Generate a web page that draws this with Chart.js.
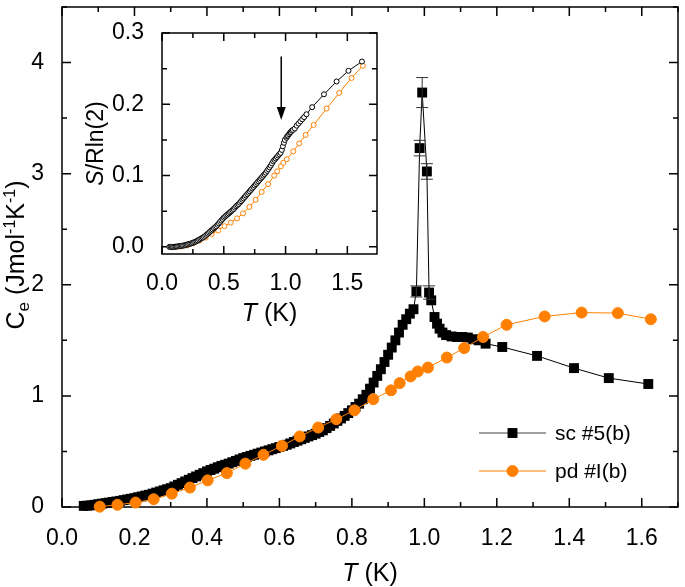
<!DOCTYPE html>
<html>
<head>
<meta charset="utf-8">
<title>Ce vs T</title>
<script src="https://cdn.jsdelivr.net/npm/chart.js@4.4.1/dist/chart.umd.min.js"></script>
<style>
    body { margin: 0; background: #fff; }
    #wrap { position: relative; width: 685px; height: 587px; }
    #wrap canvas { position: absolute; }
</style>
</head>
<body>
<div id="wrap">
    <canvas id="main" width="685" height="587" style="left:0;top:0"></canvas>
    <canvas id="inset" width="310" height="320" style="left:80px;top:20px"></canvas>
</div>
<script>
/* Ce(T) of two samples, inset: entropy S/Rln(2) */

// sc #5(b) – black squares
const scT = [0.06, 0.07, 0.08, 0.09, 0.10, 0.11, 0.12, 0.13, 0.14, 0.15, 0.16, 0.17, 0.18, 0.19, 0.20,
    0.21, 0.22, 0.23, 0.24, 0.25, 0.26, 0.27, 0.28, 0.29, 0.30, 0.31, 0.32, 0.33, 0.34, 0.35, 0.36, 0.37,
    0.38, 0.39, 0.40, 0.41, 0.42, 0.43, 0.44, 0.45, 0.46, 0.47, 0.48, 0.49, 0.50, 0.51, 0.52, 0.53, 0.54,
    0.55, 0.56, 0.57, 0.58, 0.59, 0.60, 0.61, 0.62, 0.63, 0.64, 0.65, 0.66, 0.67, 0.68, 0.69, 0.70, 0.71,
    0.72, 0.73, 0.74, 0.75, 0.76, 0.77, 0.78, 0.79, 0.80, 0.81, 0.82, 0.83, 0.84, 0.85, 0.86, 0.87, 0.88,
    0.89, 0.90, 0.91, 0.92, 0.93, 0.94, 0.95, 0.96,
    0.97, 0.978, 0.987, 0.994, 1.007, 1.013, 1.019, 1.028, 1.035, 1.042, 1.05, 1.06, 1.075, 1.09, 1.105,
    1.12, 1.135, 1.15, 1.169, 1.215, 1.311, 1.413, 1.509, 1.618];
const scCe = [0.01, 0.012, 0.015, 0.02, 0.025, 0.03, 0.035, 0.04, 0.045, 0.05, 0.055, 0.062, 0.068, 0.074, 0.08,
    0.088, 0.095, 0.103, 0.11, 0.12, 0.13, 0.14, 0.15, 0.16, 0.17, 0.185, 0.2, 0.215, 0.23, 0.245, 0.26, 0.275,
    0.29, 0.305, 0.32, 0.333, 0.345, 0.358, 0.37, 0.38, 0.39, 0.403, 0.415, 0.428, 0.44, 0.45, 0.46, 0.47, 0.48,
    0.49, 0.5, 0.51, 0.52, 0.53, 0.54, 0.55, 0.56, 0.572, 0.585, 0.597, 0.61, 0.622, 0.635, 0.647, 0.66, 0.675,
    0.69, 0.71, 0.73, 0.752, 0.775, 0.797, 0.82, 0.845, 0.87, 0.9, 0.93, 0.97, 1.01, 1.065, 1.12, 1.18, 1.24,
    1.305, 1.37, 1.435, 1.5, 1.57, 1.64, 1.69, 1.74,
    1.78, 1.94, 3.23, 3.73, 3.02, 1.93, 1.86, 1.71, 1.65, 1.605, 1.57, 1.547, 1.535, 1.53, 1.53,
    1.525, 1.51, 1.5, 1.47, 1.44, 1.36, 1.25, 1.16, 1.107];
const scS = [0, 0, 0, 0, 0, 0.0002, 0.0005, 0.0007, 0.001, 0.0012, 0.0015, 0.0018, 0.002, 0.0025, 0.003,
    0.0035, 0.004, 0.0045, 0.005, 0.0057, 0.0065, 0.0072, 0.008, 0.009, 0.01, 0.011, 0.012, 0.013, 0.014, 0.0155, 0.017, 0.0185,
    0.02, 0.0215, 0.023, 0.0245, 0.026, 0.0275, 0.029, 0.031, 0.033, 0.035, 0.037, 0.039, 0.041, 0.0425, 0.044, 0.0455, 0.047,
    0.0485, 0.05, 0.0515, 0.053, 0.055, 0.057, 0.0585, 0.06, 0.062, 0.064, 0.066, 0.068, 0.07, 0.072, 0.074, 0.076, 0.078,
    0.08, 0.082, 0.084, 0.086, 0.088, 0.09, 0.092, 0.094, 0.096, 0.098, 0.1, 0.102, 0.104, 0.1065, 0.109, 0.1115, 0.114,
    0.117, 0.12, 0.122, 0.124, 0.126, 0.128, 0.13, 0.132,
    0.136, 0.141, 0.146, 0.15, 0.153, 0.155, 0.156, 0.158, 0.16, 0.161, 0.163, 0.164, 0.166, 0.17, 0.173,
    0.176, 0.179, 0.182, 0.186, 0.196, 0.214, 0.232, 0.247, 0.26];
// error bars near the peak
const scErrT = [0.978, 0.987, 0.994, 1.007, 1.013];
const scErr = [0.05, 0.07, 0.135, 0.07, 0.06];

// pd #I(b) – orange circles
const pdT = [0.104, 0.153, 0.203, 0.253, 0.303, 0.353, 0.402, 0.455, 0.506, 0.556, 0.607, 0.656, 0.707, 0.757,
    0.807, 0.859, 0.908, 0.932, 0.962, 0.982, 1.01, 1.062, 1.11, 1.162, 1.227, 1.332, 1.434, 1.534, 1.625];
const pdCe = [0.003, 0.02, 0.04, 0.07, 0.12, 0.175, 0.24, 0.305, 0.39, 0.47, 0.55, 0.635, 0.715, 0.79,
    0.87, 0.97, 1.05, 1.115, 1.175, 1.22, 1.255, 1.345, 1.43, 1.53, 1.64, 1.715, 1.75, 1.745, 1.69];
const pdS = [0, 0.0005, 0.002, 0.005, 0.009, 0.013, 0.018, 0.023, 0.029, 0.034, 0.04, 0.047, 0.056, 0.066,
    0.077, 0.088, 0.1, 0.106, 0.113, 0.118, 0.123, 0.134, 0.145, 0.157, 0.171, 0.194, 0.216, 0.237, 0.254];

const mainXTicks = [0, 0.2, 0.4, 0.6, 0.8, 1.0, 1.2, 1.4, 1.6];
const mainYTicks = [0, 1, 2, 3, 4];
const insetXTicks = [0, 0.5, 1.0, 1.5];
const insetYTicks = [0, 0.1, 0.2, 0.3];

// arrow marking the kink in the inset
const arrowT = 0.965, arrowFrom = 0.267, arrowTo = 0.178;

const ORANGE = '#ff8000';
const FONT = '"Liberation Sans", Arial, sans-serif';

const pts = (xs, ys) => xs.map((x, i) => ({ x, y: ys[i] }));

function fixScale(s, size) {
    if (s.isHorizontal()) s.height = size; else s.width = size;
    s.paddingTop = s.paddingBottom = s.paddingLeft = s.paddingRight = 0;
}

function minorOf(major, max) {
    const step = major[1] - major[0];
    return major.map((v) => v + step / 2).filter((v) => v < max + 1e-9);
}

// box round the plot with inward ticks on all sides
const frameTicks = {
    id: 'frameTicks',
    beforeDatasetsDraw(chart, args, o) {
        const { ctx, chartArea: a, scales: { x, y } } = chart;
        ctx.save();
        ctx.strokeStyle = '#000';
        ctx.lineWidth = o.lw;
        ctx.strokeRect(a.left, a.top, a.right - a.left, a.bottom - a.top);
        ctx.beginPath();
        const xt = (vals, len) => vals.forEach((v) => {
            const p = x.getPixelForValue(v);
            ctx.moveTo(p, a.bottom); ctx.lineTo(p, a.bottom - len);
            ctx.moveTo(p, a.top); ctx.lineTo(p, a.top + len);
        });
        const yt = (vals, len) => vals.forEach((v) => {
            const p = y.getPixelForValue(v);
            ctx.moveTo(a.left, p); ctx.lineTo(a.left + len, p);
            ctx.moveTo(a.right, p); ctx.lineTo(a.right - len, p);
        });
        xt(o.xMajor, o.major); xt(minorOf(o.xMajor, x.max), o.minor);
        yt(o.yMajor, o.major); yt(minorOf(o.yMajor, y.max), o.minor);
        ctx.stroke();
        ctx.restore();
    },
};

// text with mixed sizes / italics; parts = [text, size, italic, dy]
function richText(ctx, parts, cx, cy, angle) {
    const f = (p) => `${p[2] ? 'italic ' : ''}${p[1]}px ${FONT}`;
    ctx.save();
    ctx.translate(cx, cy);
    ctx.rotate(angle);
    ctx.fillStyle = '#000';
    ctx.textBaseline = 'alphabetic';
    ctx.textAlign = 'left';
    let w = 0;
    parts.forEach((p) => { ctx.font = f(p); w += ctx.measureText(p[0]).width; });
    let x = -w / 2;
    const base = parts[0][1] * 0.36;
    parts.forEach((p) => {
        ctx.font = f(p);
        ctx.fillText(p[0], x, base + (p[3] || 0));
        x += ctx.measureText(p[0]).width;
    });
    ctx.restore();
}

const axisTitles = {
    id: 'axisTitles',
    afterDraw(chart, args, o) {
        const a = chart.chartArea;
        richText(chart.ctx, o.x, (a.left + a.right) / 2, a.bottom + o.xOff, 0);
        richText(chart.ctx, o.y, a.left + o.yOff, o.yMid != null ? o.yMid : (a.top + a.bottom) / 2, -Math.PI / 2);
    },
};

const errorBars = {
    id: 'errorBars',
    afterDatasetsDraw(chart) {
        const { ctx, scales: { x, y } } = chart;
        ctx.save();
        ctx.strokeStyle = '#333';
        ctx.lineWidth = 1;
        ctx.beginPath();
        scErrT.forEach((t, i) => {
            const k = scT.indexOf(t);
            const px = x.getPixelForValue(t);
            const hi = y.getPixelForValue(scCe[k] + scErr[i]);
            const lo = y.getPixelForValue(scCe[k] - scErr[i]);
            ctx.moveTo(px, hi); ctx.lineTo(px, lo);
            ctx.moveTo(px - 6, hi); ctx.lineTo(px + 6, hi);
            ctx.moveTo(px - 6, lo); ctx.lineTo(px + 6, lo);
        });
        ctx.stroke();
        ctx.restore();
    },
};

const mainLegend = {
    id: 'mainLegend',
    afterDraw(chart) {
        const { ctx, chartArea: a } = chart;
        const x0 = a.right - 199, x1 = a.right - 132, tx = a.right - 123;
        const rows = [a.bottom - 74, a.bottom - 36];
        ctx.save();
        chart.data.datasets.forEach((ds, i) => {
            const yy = rows[i];
            ctx.strokeStyle = ds.legendLine || ds.borderColor;
            ctx.lineWidth = 1;
            ctx.beginPath(); ctx.moveTo(x0, yy); ctx.lineTo(x1, yy); ctx.stroke();
            ctx.fillStyle = ds.pointBackgroundColor;
            ctx.strokeStyle = ds.pointBorderColor;
            Chart.helpers.drawPoint(ctx, { pointStyle: ds.pointStyle, radius: ds.pointRadius, rotation: 0, borderWidth: ds.pointBorderWidth }, (x0 + x1) / 2, yy);
            ctx.fillStyle = '#000';
            ctx.font = `21px ${FONT}`;
            ctx.textBaseline = 'middle';
            ctx.fillText(ds.label, tx, yy + 1);
        });
        ctx.restore();
    },
};

const insetArrow = {
    id: 'insetArrow',
    afterDatasetsDraw(chart) {
        const { ctx, scales: { x, y } } = chart;
        const px = x.getPixelForValue(arrowT);
        const y1 = y.getPixelForValue(arrowFrom);
        const y2 = y.getPixelForValue(arrowTo);
        ctx.save();
        ctx.strokeStyle = ctx.fillStyle = '#000';
        ctx.lineWidth = 1.5;
        ctx.beginPath(); ctx.moveTo(px, y1); ctx.lineTo(px, y2 - 10); ctx.stroke();
        ctx.beginPath();
        ctx.moveTo(px - 4.5, y2 - 13); ctx.lineTo(px + 4.5, y2 - 13); ctx.lineTo(px, y2);
        ctx.closePath(); ctx.fill();
        ctx.restore();
    },
};

const tickFont = { family: FONT, size: 23 };

new Chart(document.getElementById('main'), {
    type: 'scatter',
    data: {
        datasets: [
            {
                label: 'sc #5(b)', data: pts(scT, scCe), showLine: true, order: 2, clip: 10,
                borderColor: '#000', borderWidth: 1, legendLine: '#444',
                pointStyle: 'rect', pointRadius: 7, pointBackgroundColor: '#000',
                pointBorderColor: '#000', pointBorderWidth: 0,
            },
            {
                label: 'pd #I(b)', data: pts(pdT, pdCe), showLine: true, order: 1, clip: 10,
                borderColor: ORANGE, borderWidth: 1,
                pointStyle: 'circle', pointRadius: 5.5, pointBackgroundColor: ORANGE,
                pointBorderColor: ORANGE, pointBorderWidth: 1,
            },
        ],
    },
    options: {
        responsive: false,
        animation: false,
        devicePixelRatio: 1,
        layout: { padding: { top: 1, right: 1, left: 0, bottom: 0 } },
        plugins: {
            legend: { display: false },
            tooltip: { enabled: false },
            frameTicks: { lw: 1.5, major: 9, minor: 5, xMajor: mainXTicks, yMajor: mainYTicks },
            axisTitles: {
                x: [['T', 25, true], [' (K)', 25]], xOff: 65,
                y: [['C', 25], ['e', 17, false, 5], [' (Jmol', 25], ['-1', 16, false, -9], ['K', 25], ['-1', 16, false, -9], [')', 25]],
                yOff: -47, yMid: 255,
            },
        },
        scales: {
            x: {
                type: 'linear', min: 0, max: 1.7,
                grid: { display: false }, border: { display: false },
                afterBuildTicks: (s) => { s.ticks = mainXTicks.map((v) => ({ value: v })); },
                afterFit: (s) => fixScale(s, 80),
                ticks: { font: tickFont, color: '#000', padding: 10, maxRotation: 0, autoSkip: false, callback: (v) => v.toFixed(1) },
            },
            y: {
                type: 'linear', min: 0, max: 4.5,
                grid: { display: false }, border: { display: false },
                afterBuildTicks: (s) => { s.ticks = mainYTicks.map((v) => ({ value: v })); },
                afterFit: (s) => fixScale(s, 62),
                ticks: { font: tickFont, color: '#000', padding: 10, autoSkip: false, callback: (v) => String(v) },
            },
        },
    },
    plugins: [frameTicks, errorBars, mainLegend, axisTitles],
});

new Chart(document.getElementById('inset'), {
    type: 'scatter',
    data: {
        datasets: [
            {
                label: 'sc #5(b)', data: pts(scT, scS), showLine: true, order: 1, clip: 6,
                borderColor: '#000', borderWidth: 1,
                pointRadius: 2.5, pointBackgroundColor: '#fff', pointBorderColor: '#000', pointBorderWidth: 1,
            },
            {
                label: 'pd #I(b)', data: pts(pdT, pdS), showLine: true, order: 2, clip: 6,
                borderColor: ORANGE, borderWidth: 1,
                pointRadius: 2.5, pointBackgroundColor: '#fff', pointBorderColor: ORANGE, pointBorderWidth: 1,
            },
        ],
    },
    options: {
        responsive: false,
        animation: false,
        devicePixelRatio: 1,
        layout: { padding: { top: 13, right: 13, left: 0, bottom: 0 } },
        plugins: {
            legend: { display: false },
            tooltip: { enabled: false },
            frameTicks: { lw: 1.5, major: 8, minor: 5, xMajor: insetXTicks, yMajor: insetYTicks },
            axisTitles: {
                x: [['T', 25, true], [' (K)', 25]], xOff: 58,
                y: [['S', 23, true], ['/Rln(2)', 23]], yOff: -67,
            },
        },
        scales: {
            x: {
                type: 'linear', min: 0, max: 1.74,
                grid: { display: false }, border: { display: false },
                afterBuildTicks: (s) => { s.ticks = insetXTicks.map((v) => ({ value: v })); },
                afterFit: (s) => fixScale(s, 86),
                ticks: { font: tickFont, color: '#000', padding: 8, maxRotation: 0, autoSkip: false, callback: (v) => v.toFixed(1) },
            },
            y: {
                type: 'linear', min: -0.01, max: 0.3,
                grid: { display: false }, border: { display: false },
                afterBuildTicks: (s) => { s.ticks = insetYTicks.map((v) => ({ value: v })); },
                afterFit: (s) => fixScale(s, 82),
                ticks: { font: tickFont, color: '#000', padding: 10, autoSkip: false, callback: (v) => v.toFixed(1) },
            },
        },
    },
    plugins: [frameTicks, insetArrow, axisTitles],
});
</script>
</body>
</html>
